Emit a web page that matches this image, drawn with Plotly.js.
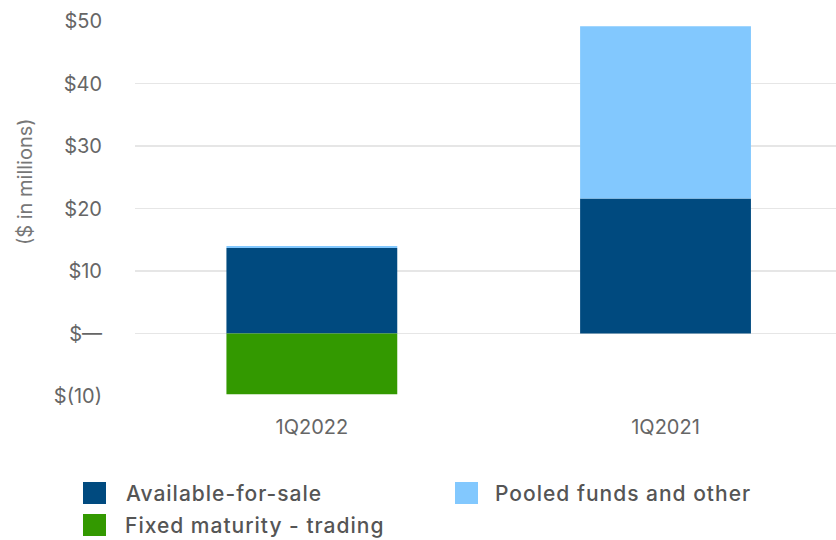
<!DOCTYPE html>
<html>
<head>
<meta charset="utf-8">
<script src="https://cdn.plot.ly/plotly-3.0.1.min.js"></script>
<style>
html,body{margin:0;padding:0;background:#fff;overflow:hidden}
g.annotation[data-index="0"] text, g.annotation[data-index="1"] text, g.annotation[data-index="2"] text {letter-spacing:1px}
</style>
</head>
<body>
<div id="chart" style="width:836px;height:540px"></div>
<script>
const categories = ["1Q2022", "1Q2021"];
const availableForSale = [13.7, 21.6];
const pooledFunds = [0.3, 27.55];
const fixedMaturityTrading = [-9.7, 0];
const seriesNames = ["Available-for-sale", "Pooled funds and other", "Fixed maturity - trading"];
const seriesColors = ["#004a7f", "#82c8fe", "#339900"];
const tickValues = [-10, 0, 10, 20, 30, 40, 50];
const tickLabels = ["$(10)", "$\u2014", "$10", "$20", "$30", "$40", "$50"];
const axisTitle = "($ in millions)";

const L = 135, T = 21, PW = 701, PH = 375;
const px = x => (x - L) / PW;
const py = y => (T + PH - y) / PH;
const FONT = "Inter, 'Open Sans', sans-serif";

const seriesValues = [availableForSale, pooledFunds, fixedMaturityTrading];
const traces = seriesValues.map((vals, i) => ({
  type: "bar",
  x: categories,
  y: vals,
  name: seriesNames[i],
  marker: {color: seriesColors[i], line: {width: 0}},
  width: 0.483,
  hoverinfo: "x+y+name"
}));

// manual legend: squares + labels
const legendPos = [
  {sx: 83, sy: 482, tx: 125, ty: 493},
  {sx: 455, sy: 482, tx: 495, ty: 493},
  {sx: 83, sy: 514, tx: 125, ty: 525}
];
const shapes = legendPos.map((p, i) => ({
  type: "rect", xref: "paper", yref: "paper",
  x0: px(p.sx), x1: px(p.sx + 23), y0: py(p.sy), y1: py(p.sy + 22),
  fillcolor: seriesColors[i], line: {width: 0}
}));
const annotations = legendPos.map((p, i) => ({
  xref: "paper", yref: "paper", x: px(p.tx + seriesNames[i].length * 0.42), y: py(p.ty),
  xanchor: "left", yanchor: "middle", showarrow: false,
  text: seriesNames[i],
  font: {family: FONT, size: 21, color: "#555555", weight: 500}
}));
annotations.push({
  xref: "paper", yref: "paper", x: px(25), y: py(182),
  xanchor: "center", yanchor: "middle", showarrow: false, textangle: -90,
  text: axisTitle,
  font: {family: FONT, size: 20, color: "#777777"}
});

const layout = {
  width: 836, height: 540,
  margin: {l: L, r: 0, t: T, b: 540 - T - PH, pad: 0},
  paper_bgcolor: "#ffffff", plot_bgcolor: "#ffffff",
  barmode: "relative",
  showlegend: false,
  xaxis: {
    range: [-0.5, 1.482],
    showgrid: false, zeroline: false, showline: false,
    ticks: "", ticklabelstandoff: 17,
    tickfont: {family: FONT, size: 20, color: "#666666"},
    fixedrange: true
  },
  yaxis: {
    range: [-10, 50],
    tickvals: tickValues, ticktext: tickLabels,
    showgrid: true, gridcolor: "#e6e6e6", gridwidth: 1.5,
    zeroline: false, showline: false,
    ticks: "", ticklabelstandoff: 32,
    tickfont: {family: FONT, size: 20, color: "#666666"},
    fixedrange: true
  },
  shapes: shapes,
  annotations: annotations,
  font: {family: FONT}
};

Plotly.newPlot("chart", traces, layout, {displayModeBar: false, staticPlot: true});
</script>
</body>
</html>
